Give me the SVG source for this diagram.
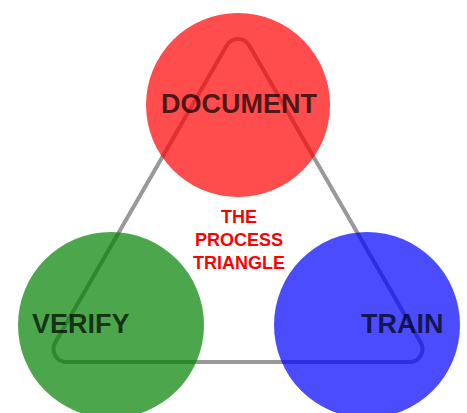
<svg xmlns="http://www.w3.org/2000/svg" width="467" height="413" viewBox="0 0 467 413">
  <style>
    .node { opacity: 0.7; }
    .label { font-family: "Liberation Sans", Arial, sans-serif; font-weight: bold; font-size: 27px; fill: #000; fill-opacity: 0.7; }
    .title { font-family: "Liberation Sans", Arial, sans-serif; font-weight: bold; font-size: 18px; fill: #ff0000; text-anchor: middle; }
    .link { fill: none; stroke: #999; stroke-width: 4; }
  </style>
  <rect width="467" height="413" fill="#fff"/>
  <!-- rounded triangle linking the three steps -->
  <g id="connectors">
    <path class="link" d="M226.7,45.5 L55.3,342.5 A13,13 0 0 0 66.5,362 L409.5,362 A13,13 0 0 0 420.7,342.5 L249.3,45.5 A13,13 0 0 0 226.7,45.5 Z"/>
  </g>
  <g id="document">
    <circle class="node" cx="238" cy="105" r="92" fill="#ff0000"/>
    <text class="label" x="239" y="113" text-anchor="middle">DOCUMENT</text>
  </g>
  <g id="verify">
    <circle class="node" cx="111" cy="325" r="93" fill="#008000"/>
    <text class="label" x="32" y="333">VERIFY</text>
  </g>
  <g id="train">
    <circle class="node" cx="367" cy="325" r="93" fill="#0000ff"/>
    <text class="label" x="361" y="333">TRAIN</text>
  </g>
  <g id="title">
    <text class="title" x="239" y="223">THE</text>
    <text class="title" x="239" y="246">PROCESS</text>
    <text class="title" x="239" y="269">TRIANGLE</text>
  </g>
</svg>
